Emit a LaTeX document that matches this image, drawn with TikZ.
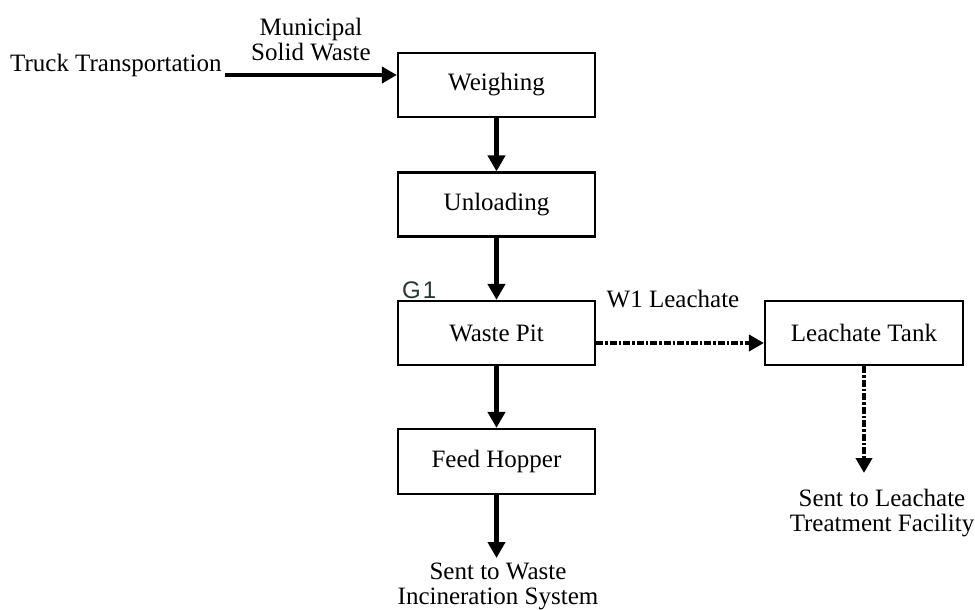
\documentclass[tikz,border=0pt]{standalone}
\usepackage{fontspec}
\setmainfont{Liberation Serif}
\newfontfamily\gfont{Liberation Sans}
\usetikzlibrary{arrows.meta}
\definecolor{gcol}{RGB}{40,55,52}
\tikzset{
  procbox/.style={draw, line width=2.2pt, minimum width=197pt, minimum height=64pt, inner sep=0pt, font=\fontsize{25}{25}\selectfont},
  lbl/.style={inner sep=0pt, font=\fontsize{25}{25}\selectfont, align=center},
  flowarrow/.style={line width=5pt, -{Triangle[length=16pt,width=17pt]}},
  feedarrow/.style={line width=4.5pt, -{Triangle[length=15pt,width=16pt]}},
  leacharrow/.style={line width=4.5pt, dash pattern=on 7pt off 2pt on 2.5pt off 2pt, -{Triangle[length=15pt,width=16pt]}}
}
\begin{document}
\begin{tikzpicture}[x=1pt,y=-1pt]
\useasboundingbox (0,0) rectangle (975,610);
% boxes
\node[procbox] (weigh)  at (496.5,85)   {Weighing};
\node[procbox] (unload) at (496.5,204.5) {Unloading};
\node[procbox] (pit)    at (496.5,333)  {Waste Pit};
\node[procbox, minimum height=65pt] (hopper) at (496.5,461.5) {Feed Hopper};
\node[procbox, minimum width=198pt] (tank) at (864,333) {Leachate Tank};
% labels
\node[lbl, anchor=base west] (truck) at (10,72) {Truck Transportation};
\node[lbl] (msw) at (311,39.5) {Municipal\\Solid Waste};
\node[lbl, anchor=base] (w1) at (673,307) {W1 Leachate};
\node[inner sep=0pt, anchor=base west, text=gcol, font=\gfont\fontsize{24}{24}\selectfont] (g1) at (402,298) {G\kern2pt 1};
\node[lbl] (incin) at (498,586) {Sent to Waste\\Incineration System};
\node[lbl] (ltf) at (882,513) {Sent to Leachate\\Treatment Facility};
% connector ends
\coordinate (tstart) at (225,75);
\coordinate (incinend) at (496.5,558);
\coordinate (ltfend) at (864,473);
% connectors
\draw[feedarrow] (tstart) -- (weigh.west |- tstart);
\draw[flowarrow] (weigh) -- (unload);
\draw[flowarrow] (unload) -- (pit);
\draw[flowarrow] (pit) -- (hopper);
\draw[flowarrow] (hopper) -- (incinend);
\draw[leacharrow] ([yshift=-10pt]pit.east) -- ([yshift=-10pt]tank.west);
\draw[leacharrow] (tank) -- (ltfend);
\end{tikzpicture}
\end{document}
